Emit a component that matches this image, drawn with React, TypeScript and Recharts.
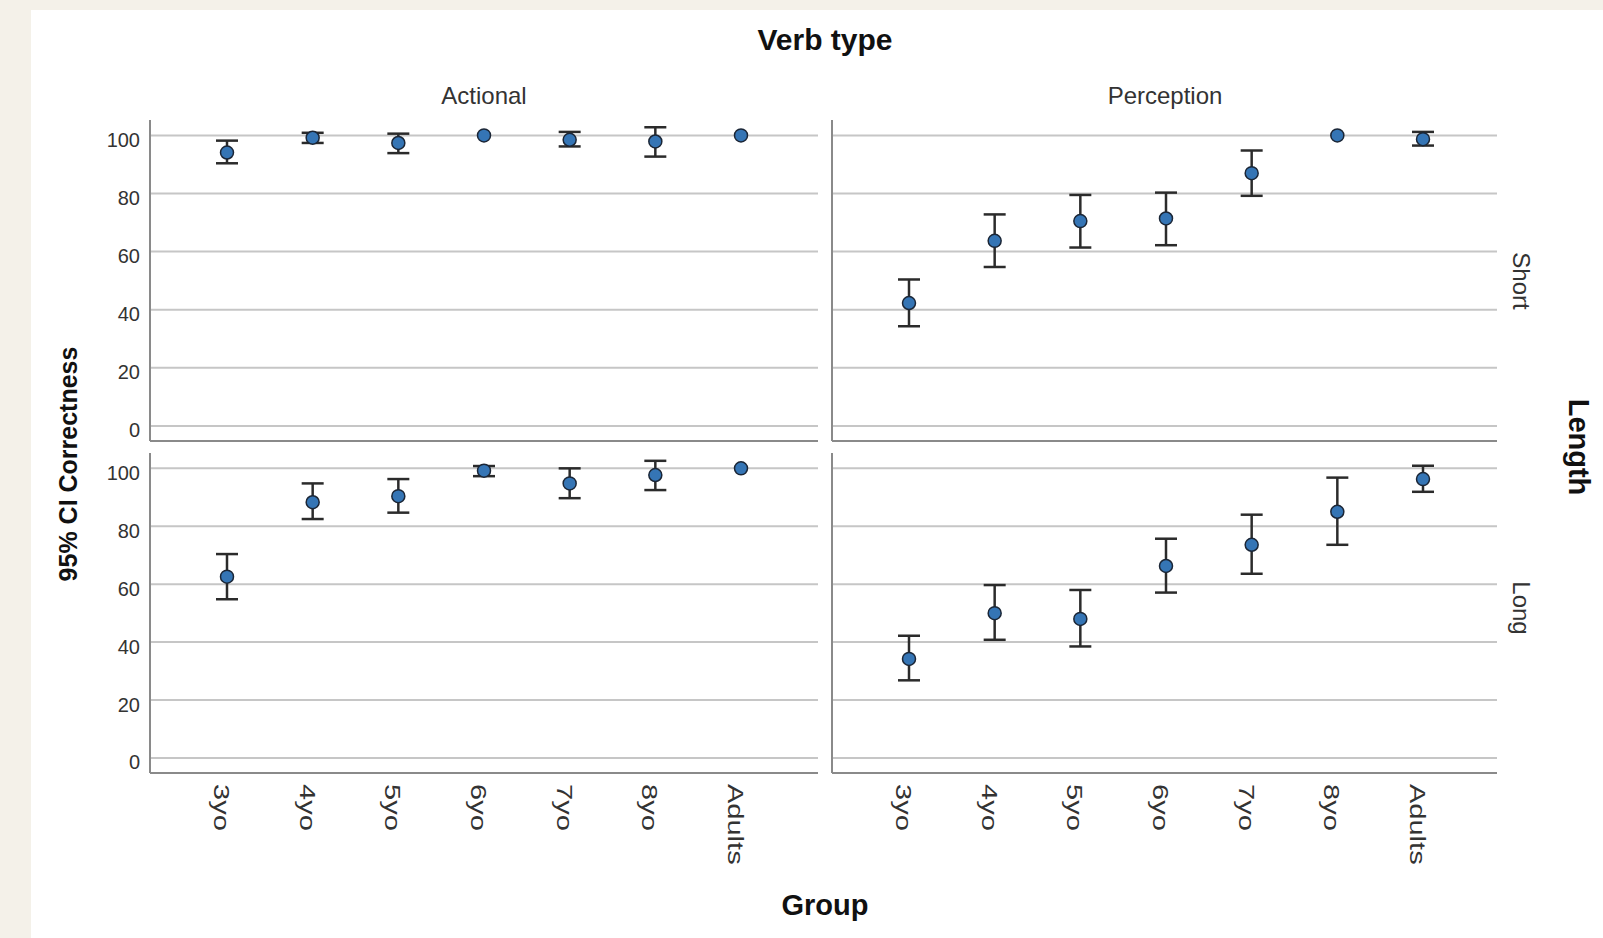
import React from 'react';
import { LineChart, Line, XAxis, YAxis, CartesianGrid, ErrorBar } from 'recharts';

// ---- Data ----
const groups = ['3yo', '4yo', '5yo', '6yo', '7yo', '8yo', 'Adults'];

const actionalShortMean = [94.1, 99.2, 97.4, 100, 98.5, 97.9, 100];
const actionalShortLow = [90.4, 97.4, 93.9, null, 96.2, 92.7, null];
const actionalShortHigh = [98.2, 100.9, 100.6, null, 101.2, 102.8, null];

const perceptionShortMean = [42.3, 63.7, 70.5, 71.4, 87.0, 100, 98.7];
const perceptionShortLow = [34.3, 54.7, 61.4, 62.2, 79.2, null, 96.5];
const perceptionShortHigh = [50.4, 72.8, 79.5, 80.3, 94.8, null, 101.2];

const actionalLongMean = [62.6, 88.3, 90.4, 99.2, 94.8, 97.7, 100];
const actionalLongLow = [54.8, 82.5, 84.7, 97.3, 89.7, 92.5, null];
const actionalLongHigh = [70.4, 94.8, 96.3, 100.8, 100.0, 102.6, null];

const perceptionLongMean = [34.2, 50.0, 48.0, 66.3, 73.6, 85.0, 96.3];
const perceptionLongLow = [26.8, 40.8, 38.5, 57.1, 63.6, 73.6, 91.9];
const perceptionLongHigh = [42.2, 59.7, 58.0, 75.7, 84.0, 96.8, 100.9];

const yTicks = [0, 20, 40, 60, 80, 100];
const yDomain: [number, number] = [-5.2, 105.3];

const columnLabels = ['Actional', 'Perception'];
const rowLabels = ['Short', 'Long'];

function buildRows(mean: number[], low: (number | null)[], high: (number | null)[]) {
  return groups.map((g, i) => {
    const lo = low[i];
    const hi = high[i];
    return {
      group: g,
      mean: mean[i],
      err: lo == null || hi == null ? null : [mean[i] - lo, hi - mean[i]],
    };
  });
}

const FONT = "'Liberation Sans', Arial, Helvetica, sans-serif";
const AXIS = { stroke: '#8a8a8a', strokeWidth: 2 };

const Dot = (props: any) => {
  const { cx, cy } = props;
  if (cx == null || cy == null) return null;
  return <circle cx={cx} cy={cy} r={6.5} fill="#3575b5" stroke="#1b2636" strokeWidth={1.5} />;
};

const YTick = (props: any) => {
  const { x, y, payload } = props;
  return (
    <text x={x} y={y} dy={11.5} textAnchor="end" fontSize={20} fill="#333" fontFamily={FONT}>
      {payload.value}
    </text>
  );
};

const EmptyTick = () => <g />;

const XTick = (props: any) => {
  const { x, y, payload } = props;
  return (
    <g transform={`translate(${x},${y}) rotate(90) scale(1.35,1)`}>
      <text x={0} y={0} dy={13} textAnchor="start" fontSize={21.5} fill="#333" fontFamily={FONT}>
        {payload.value}
      </text>
    </g>
  );
};

type PanelProps = {
  rows: any[];
  left: number;
  top: number;
  width: number;
  height: number;
  yLabels: boolean;
  xLabels: boolean;
  padL: number;
  padR: number;
};

function Panel({ rows, left, top, width, height, yLabels, xLabels, padL, padR }: PanelProps) {
  return (
    <div style={{ position: 'absolute', left, top, width, height }}>
      <LineChart width={width} height={height} data={rows} margin={{ top: 5, right: 5, bottom: 5, left: 0 }}>
        <CartesianGrid vertical={false} horizontalValues={yTicks} stroke="#c6c6c6" strokeWidth={2} />
        <XAxis
          dataKey="group"
          type="category"
          scale="point"
          padding={{ left: padL, right: padR }}
          height={xLabels ? 100 : 1}
          interval={0}
          tickLine={false}
          tickSize={0}
          tickMargin={11}
          tick={xLabels ? <XTick /> : <EmptyTick />}
          axisLine={AXIS}
        />
        <YAxis
          type="number"
          domain={yDomain}
          ticks={yTicks}
          allowDataOverflow
          width={yLabels ? 60 : 1}
          tickLine={false}
          tickSize={0}
          tickMargin={10}
          tick={yLabels ? <YTick /> : <EmptyTick />}
          axisLine={AXIS}
        />
        <Line
          dataKey="mean"
          stroke="none"
          dot={<Dot />}
          activeDot={false}
          isAnimationActive={false}
        >
          <ErrorBar dataKey="err" width={11} strokeWidth={2.5} stroke="#2b2b2b" direction="y" />
        </Line>
      </LineChart>
    </div>
  );
}

export default function App() {
  const as = buildRows(actionalShortMean, actionalShortLow, actionalShortHigh);
  const ps = buildRows(perceptionShortMean, perceptionShortLow, perceptionShortHigh);
  const al = buildRows(actionalLongMean, actionalLongLow, actionalLongHigh);
  const pl = buildRows(perceptionLongMean, perceptionLongLow, perceptionLongHigh);

  return (
    <div
      style={{
        position: 'absolute',
        left: 0,
        top: 0,
        width: 1603,
        height: 938,
        background: '#f4f1e9',
        overflow: 'hidden',
        fontFamily: FONT,
      }}
    >
      <div style={{ position: 'absolute', left: 31, top: 10, right: 0, bottom: 0, background: '#ffffff' }} />
      <Panel rows={as} left={90} top={115} width={733} height={332} yLabels xLabels={false} padL={77} padR={77} />
      <Panel rows={ps} left={831} top={115} width={671} height={332} yLabels={false} xLabels={false} padL={77} padR={74} />
      <Panel rows={al} left={90} top={448} width={733} height={430} yLabels xLabels padL={77} padR={77} />
      <Panel rows={pl} left={831} top={448} width={671} height={430} yLabels={false} xLabels padL={77} padR={74} />
      <svg
        width={1603}
        height={938}
        style={{ position: 'absolute', left: 0, top: 0, pointerEvents: 'none' }}
        fontFamily={FONT}
      >
        <text x={825} y={50} textAnchor="middle" fontSize={30} fontWeight="bold" fill="#111">
          Verb type
        </text>
        <text x={484} y={104} textAnchor="middle" fontSize={24} fill="#333">
          {columnLabels[0]}
        </text>
        <text x={1165} y={104} textAnchor="middle" fontSize={24} fill="#333">
          {columnLabels[1]}
        </text>
        <text x={825} y={915} textAnchor="middle" fontSize={29} fontWeight="bold" fill="#111">
          Group
        </text>
        <g transform="translate(77,464) rotate(-90)">
          <text x={0} y={0} textAnchor="middle" fontSize={25} fontWeight="bold" fill="#111">
            95% CI Correctness
          </text>
        </g>
        <g transform="translate(1569,447) rotate(90)">
          <text x={0} y={0} textAnchor="middle" fontSize={29} fontWeight="bold" fill="#111">
            Length
          </text>
        </g>
        <g transform="translate(1513,281) rotate(90)">
          <text x={0} y={0} textAnchor="middle" fontSize={24} fill="#333">
            {rowLabels[0]}
          </text>
        </g>
        <g transform="translate(1513,608) rotate(90)">
          <text x={0} y={0} textAnchor="middle" fontSize={24} fill="#333">
            {rowLabels[1]}
          </text>
        </g>
      </svg>
    </div>
  );
}
